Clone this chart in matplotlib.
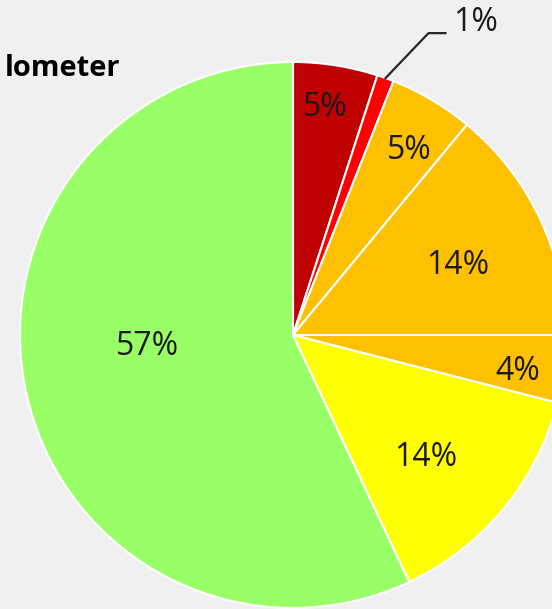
import numpy as np
import matplotlib
matplotlib.use("Agg")
import matplotlib.pyplot as plt

# slices, clockwise from 12 o'clock
shares = [5, 1, 5, 14, 4, 14, 57]
labels = ["5%", "1%", "5%", "14%", "4%", "14%", "57%"]
colors = ["#c00000", "#ff0000", "#ffc000", "#ffc000", "#ffc000", "#ffff00", "#99ff66"]
# label placement: fraction of radius, angle nudge (deg) from slice middle
label_r = [0.84, None, 0.80, 0.656, 0.835, 0.659, 0.533]
label_dt = [1.0, 0.0, -1.7, -2.2, -2.1, -3.1, -7.9]
title = "lometer"  # what is visible of the (cropped) title

W, H = 552, 609
bg = "#f0f0f0"
plt.rcParams["font.family"] = ["Open Sans", "DejaVu Sans"]

fig = plt.figure(figsize=(W / 100, H / 100), dpi=100, facecolor=bg)
ax = fig.add_axes([0, 0, 1, 1])
ax.set_facecolor(bg)

cx, cy, R = 293, H - 335, 273
wedges, _ = ax.pie(shares, colors=colors, startangle=90, counterclock=False,
                   center=(cx, cy), radius=R, frame=True,
                   wedgeprops=dict(edgecolor="white", linewidth=1.5))
ax.set_xlim(0, W)
ax.set_ylim(0, H)
ax.set_aspect("equal")
ax.axis("off")

for w, lab, r, dt in zip(wedges, labels, label_r, label_dt):
    mid = np.deg2rad((w.theta1 + w.theta2) / 2 + dt)
    if r is None:
        # small slice: label outside with leader line
        ex, ey = cx + R * np.cos(mid), cy + R * np.sin(mid)
        kx, ky = ex + 43, ey + 45
        ax.plot([ex, kx, kx + 17], [ey, ky, ky], color="#262626", lw=1.6)
        ax.text(kx + 25, ky + 11, lab, fontsize=23, color="#1a1a1a",
                ha="left", va="center")
        continue
    ax.text(cx + r * R * np.cos(mid), cy + r * R * np.sin(mid), lab,
            fontsize=23, color="#1a1a1a", ha="center", va="center")

fig.text(120 / W, 1 - 68.5 / H, title, fontsize=21, fontweight="bold",
         ha="right", va="center", color="black")

fig.savefig("out.png", dpi=100, facecolor=bg)
